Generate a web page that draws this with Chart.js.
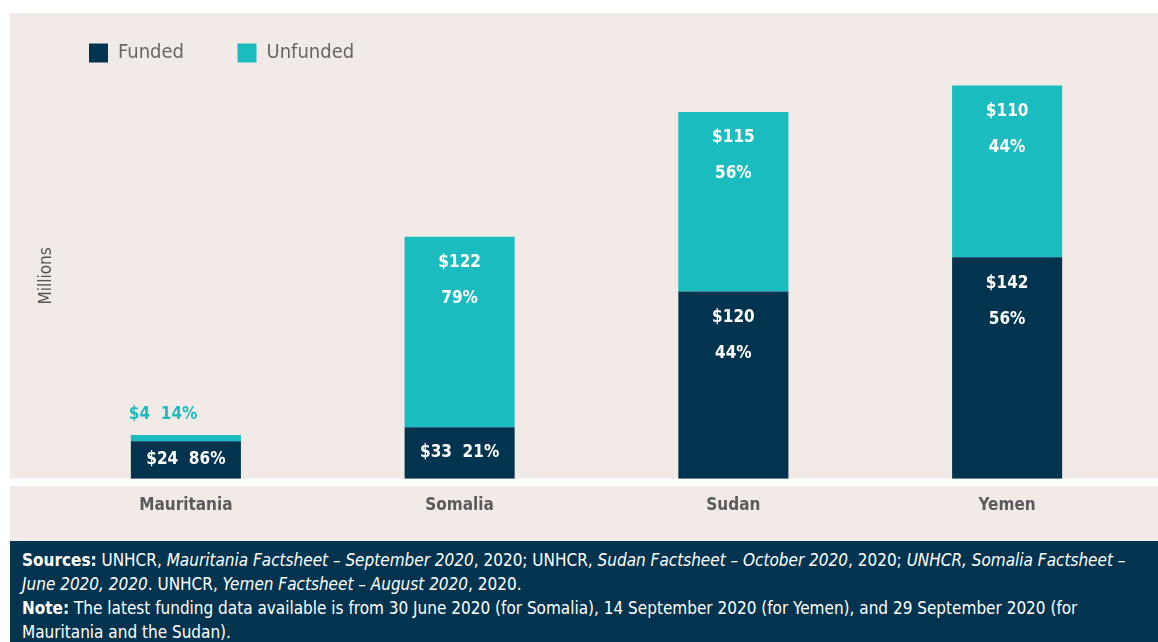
<!DOCTYPE html>
<html>
<head>
<meta charset="utf-8">
<script src="https://cdn.jsdelivr.net/npm/chart.js@4"></script>
<style>
  body { margin: 0; width: 1158px; height: 642px; background: #fff; position: relative; overflow: hidden;
         font-family: "DejaVu Sans Condensed", "Liberation Sans Narrow", sans-serif; }
  #panel { position: absolute; left: 10px; top: 13px; width: 1148px; height: 528px; background: #f2eae7; }
  #panel canvas { position: absolute; left: 0; top: 0; }
  #notes { position: absolute; left: 10px; top: 541px; width: 1148px; height: 101px; background: #03344f;
           color: #fff; font-size: 17px; line-height: 24px; box-sizing: border-box; padding: 7px 0 0 12px;
           white-space: nowrap; }
  #notes b { font-weight: bold; }
</style>
</head>
<body>
<div id="panel"><canvas id="bar-chart" width="1148" height="528"></canvas></div>
<div id="notes">
  <b>Sources:</b> UNHCR, <i>Mauritania Factsheet – September 2020</i>, 2020; UNHCR, <i>Sudan Factsheet – October 2020</i>, 2020; <i>UNHCR, Somalia Factsheet –</i><br>
  <i>June 2020, 2020</i>. UNHCR, <i>Yemen Factsheet – August 2020</i>, 2020.<br>
  <b>Note:</b> The latest funding data available is from 30 June 2020 (for Somalia), 14 September 2020 (for Yemen), and 29 September 2020 (for<br>
  Mauritania and the Sudan).
</div>
<script>
const countries = ["Mauritania", "Somalia", "Sudan", "Yemen"];
const funded = [24, 33, 120, 142];
const unfunded = [4, 122, 115, 110];
const fundedPct = [86, 21, 44, 56];
const unfundedPct = [14, 79, 56, 44];

const navy = "#03344f";
const teal = "#1abcbf";
const fontName = '"DejaVu Sans Condensed", "Liberation Sans Narrow", sans-serif';

// white strip between the plot and the country names
const baseStrip = {
  id: "baseStrip",
  beforeDatasetsDraw(chart) {
    const ctx = chart.ctx;
    ctx.save();
    ctx.fillStyle = "#ffffff";
    ctx.fillRect(0, chart.chartArea.bottom, chart.width, 7.3);
    ctx.restore();
  }
};

const barLabels = {
  id: "barLabels",
  afterDatasetsDraw(chart) {
    const ctx = chart.ctx;
    ctx.save();
    ctx.font = "bold 17px " + fontName;
    ctx.textBaseline = "middle";

    function label(bar, value, pct) {
      const h = bar.base - bar.y;
      if (h > 80) {
        ctx.fillStyle = "#ffffff";
        ctx.textAlign = "center";
        ctx.fillText("$" + value, bar.x, bar.y + 26);
        ctx.fillText(pct + "%", bar.x, bar.y + 62);
      } else if (h > 20) {
        ctx.fillStyle = "#ffffff";
        ctx.textAlign = "center";
        ctx.fillText("$" + value + "  " + pct + "%", bar.x, (bar.y + bar.base) / 2);
      } else {
        ctx.fillStyle = teal;
        ctx.textAlign = "left";
        ctx.fillText("$" + value + "  " + pct + "%", bar.x - bar.width / 2 - 2, bar.y - 20);
      }
    }

    const fundedBars = chart.getDatasetMeta(0).data;
    const unfundedBars = chart.getDatasetMeta(1).data;
    for (let i = 0; i < countries.length; i++) {
      label(fundedBars[i], funded[i], fundedPct[i]);
      label(unfundedBars[i], unfunded[i], unfundedPct[i]);
    }
    ctx.restore();
  }
};

new Chart(document.getElementById("bar-chart"), {
  type: "bar",
  data: {
    labels: countries,
    datasets: [
      { label: "Funded", data: funded, backgroundColor: navy },
      { label: "Unfunded", data: unfunded, backgroundColor: teal }
    ]
  },
  options: {
    responsive: false,
    animation: false,
    layout: { padding: { left: 25.5, right: 14, top: -23.5, bottom: 7.7 } },
    datasets: { bar: { categoryPercentage: 1, barPercentage: 0.402, borderWidth: 0 } },
    plugins: {
      legend: {
        position: "top",
        align: "start",
        labels: {
          boxWidth: 19,
          boxHeight: 19,
          padding: 53.5,
          color: "#666666",
          font: { family: fontName, size: 20 }
        }
      },
      tooltip: { enabled: false }
    },
    scales: {
      x: {
        stacked: true,
        grid: { display: false, drawTicks: false },
        border: { display: false },
        ticks: {
          padding: 17.1,
          maxRotation: 0,
          color: "#5b5b5b",
          font: { family: fontName, size: 17, weight: "bold" }
        }
      },
      y: {
        stacked: true,
        min: 0,
        max: 260,
        grid: { display: false, drawTicks: false },
        border: { display: false },
        ticks: { display: false },
        title: {
          display: true,
          text: "Millions",
          color: "#555555",
          padding: { top: 3, bottom: -6.5 },
          font: { family: fontName, size: 17, lineHeight: 1 }
        }
      }
    }
  },
  plugins: [baseStrip, barLabels]
});
</script>
</body>
</html>
